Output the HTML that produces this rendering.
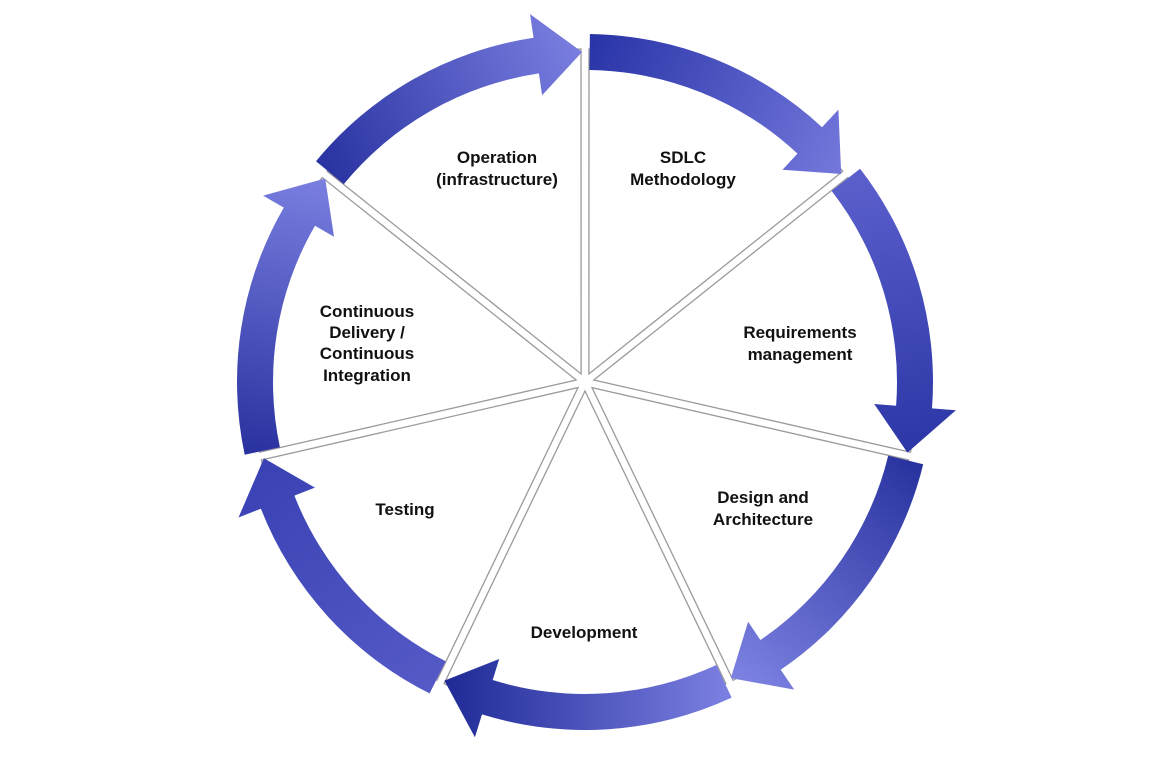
<!DOCTYPE html>
<html><head><meta charset="utf-8">
<style>
html,body{margin:0;padding:0;background:#fff;}
svg{display:block;}
text{font-family:"Liberation Sans",sans-serif;font-weight:bold;font-size:17px;fill:#111;text-anchor:middle;}
</style></head>
<body>
<svg id="s" width="1160" height="761" viewBox="0 0 1160 761" xmlns="http://www.w3.org/2000/svg">
<defs id="d"></defs>
<g id="w"></g>
<g id="a"></g>
<text x="497" y="163">Operation</text>
<text x="497" y="185">(infrastructure)</text>
<text x="683" y="163">SDLC</text>
<text x="683" y="185">Methodology</text>
<text x="800" y="338">Requirements</text>
<text x="800" y="360">management</text>
<text x="763" y="503">Design and</text>
<text x="763" y="525">Architecture</text>
<text x="584" y="638">Development</text>
<text x="405" y="515">Testing</text>
<text x="367" y="317">Continuous</text>
<text x="367" y="338">Delivery /</text>
<text x="367" y="359">Continuous</text>
<text x="367" y="381">Integration</text>
</svg>
<script>
var cx=585,cy=382,NS="http://www.w3.org/2000/svg";
var step=360/7,rad=Math.PI/180;
function pt(a,r){return [cx+r*Math.cos(a*rad),cy+r*Math.sin(a*rad)];}
function f(p){return p[0].toFixed(1)+","+p[1].toFixed(1);}
var w=document.getElementById("w"),ag=document.getElementById("a"),d=document.getElementById("d");
for(var i=0;i<7;i++){
  var a0=-90+i*step,a1=a0+step,R=333;
  var mid=(a0+a1)/2;
  var p0=pt(mid,9);
  var dl=Math.asin(4/R)/rad;
  var p1=pt(a0+dl,R),p2=pt(a1-dl,R);
  var path=document.createElementNS(NS,"path");
  path.setAttribute("d","M"+f(p0)+" L"+f(p1)+" A"+R+","+R+" 0 0 1 "+f(p2)+" Z");
  path.setAttribute("fill","#fff");path.setAttribute("stroke","#9a9a9a");path.setAttribute("stroke-width","1.3");
  w.appendChild(path);
}
var cols=[["#2a35a8","#7478dc"],["#5a5fcc","#2c36a6"],["#2a34a0","#7d82e2"],["#7a7ee0","#1f2a96"],["#5459c6","#3a42b4"],["#2a33a0","#7a7fe0"],["#2a34a2","#7a7ee0"]];
var r1=312,r2=348,rm=330,hi=290,ho=372,hl=8;
for(var i=0;i<7;i++){
  var a0=-90+i*step+0.8,a1=-90+(i+1)*step-0.5,ah=a1-hl;
  var p=[pt(a0,r2),pt(ah,r2),pt(ah,ho),pt(a1,rm),pt(ah,hi),pt(ah,r1),pt(a0,r1)];
  var s="M"+f(p[0])+" A"+r2+","+r2+" 0 0 1 "+f(p[1])+" L"+f(p[2])+" L"+f(p[3])+" L"+f(p[4])+" L"+f(p[5])+" A"+r1+","+r1+" 0 0 0 "+f(p[6])+" Z";
  var g=document.createElementNS(NS,"linearGradient");
  g.setAttribute("id","g"+i);g.setAttribute("gradientUnits","userSpaceOnUse");
  var t=pt(a0,rm),h=pt(a1,rm);
  g.setAttribute("x1",t[0]);g.setAttribute("y1",t[1]);g.setAttribute("x2",h[0]);g.setAttribute("y2",h[1]);
  var s1=document.createElementNS(NS,"stop");s1.setAttribute("offset","0");s1.setAttribute("stop-color",cols[i][0]);
  var s2=document.createElementNS(NS,"stop");s2.setAttribute("offset","1");s2.setAttribute("stop-color",cols[i][1]);
  g.appendChild(s1);g.appendChild(s2);d.appendChild(g);
  var path=document.createElementNS(NS,"path");
  path.setAttribute("d",s);path.setAttribute("fill","url(#g"+i+")");
  ag.appendChild(path);
}
</script>
</body></html>
